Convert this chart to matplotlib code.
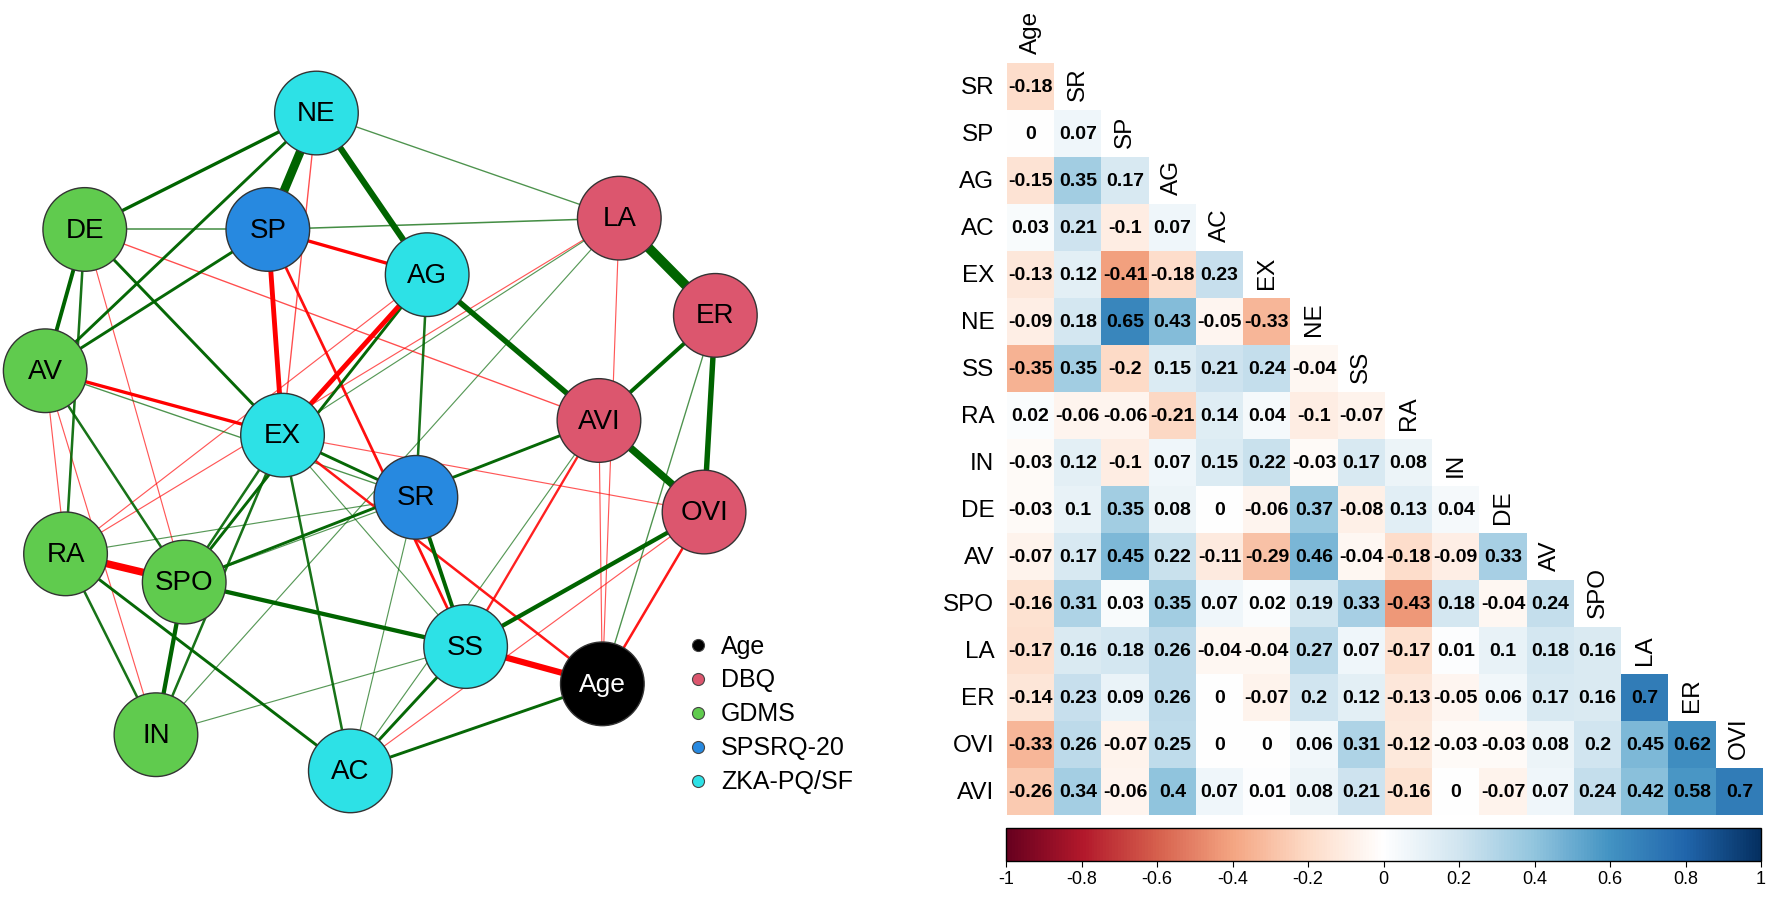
import numpy as np
import matplotlib
matplotlib.use("Agg")
import matplotlib.pyplot as plt
from matplotlib.colors import LinearSegmentedColormap, Normalize
from matplotlib.patches import Circle
import matplotlib as mpl

plt.rcParams['font.family'] = ['Liberation Sans', 'DejaVu Sans']

# ---------------- data ----------------
variables = ["Age", "SR", "SP", "AG", "AC", "EX", "NE", "SS", "RA", "IN",
             "DE", "AV", "SPO", "LA", "ER", "OVI", "AVI"]

corr_rows = [
    [-0.18],
    [0, 0.07],
    [-0.15, 0.35, 0.17],
    [0.03, 0.21, -0.1, 0.07],
    [-0.13, 0.12, -0.41, -0.18, 0.23],
    [-0.09, 0.18, 0.65, 0.43, -0.05, -0.33],
    [-0.35, 0.35, -0.2, 0.15, 0.21, 0.24, -0.04],
    [0.02, -0.06, -0.06, -0.21, 0.14, 0.04, -0.1, -0.07],
    [-0.03, 0.12, -0.1, 0.07, 0.15, 0.22, -0.03, 0.17, 0.08],
    [-0.03, 0.1, 0.35, 0.08, 0, -0.06, 0.37, -0.08, 0.13, 0.04],
    [-0.07, 0.17, 0.45, 0.22, -0.11, -0.29, 0.46, -0.04, -0.18, -0.09, 0.33],
    [-0.16, 0.31, 0.03, 0.35, 0.07, 0.02, 0.19, 0.33, -0.43, 0.18, -0.04, 0.24],
    [-0.17, 0.16, 0.18, 0.26, -0.04, -0.04, 0.27, 0.07, -0.17, 0.01, 0.1, 0.18, 0.16],
    [-0.14, 0.23, 0.09, 0.26, 0, -0.07, 0.2, 0.12, -0.13, -0.05, 0.06, 0.17, 0.16, 0.7],
    [-0.33, 0.26, -0.07, 0.25, 0, 0, 0.06, 0.31, -0.12, -0.03, -0.03, 0.08, 0.2, 0.45, 0.62],
    [-0.26, 0.34, -0.06, 0.4, 0.07, 0.01, 0.08, 0.21, -0.16, 0, -0.07, 0.07, 0.24, 0.42, 0.58, 0.7],
]

group_names = ["Age", "DBQ", "GDMS", "SPSRQ-20", "ZKA-PQ/SF"]
node_group = {
    "Age": "Age",
    "LA": "DBQ", "ER": "DBQ", "OVI": "DBQ", "AVI": "DBQ",
    "DE": "GDMS", "AV": "GDMS", "RA": "GDMS", "SPO": "GDMS", "IN": "GDMS",
    "SP": "SPSRQ-20", "SR": "SPSRQ-20",
    "NE": "ZKA-PQ/SF", "AG": "ZKA-PQ/SF", "EX": "ZKA-PQ/SF", "SS": "ZKA-PQ/SF", "AC": "ZKA-PQ/SF",
}

# network edges (signed edge weights)
edge_from = ["LA", "NE", "AVI", "RA", "Age", "NE", "AG", "ER", "SP", "AG",
             "OVI", "SPO", "SPO", "ER", "SS", "DE", "NE", "NE", "SP", "DE",
             "DE", "AV", "AV", "SP", "SP", "EX", "OVI", "AVI", "AG", "AG",
             "EX", "EX", "EX", "EX", "RA", "RA", "AC", "AC", "AVI", "SP",
             "SP", "NE", "NE", "LA", "AVI", "DE", "DE", "AV", "AV", "AV",
             "AG", "RA", "LA", "LA", "ER", "AVI", "OVI", "EX", "RA", "RA",
             "SPO", "SR", "IN", "EX"]
edge_to = ["ER", "SP", "OVI", "SPO", "SS", "AG", "AVI", "OVI", "EX", "EX",
           "SS", "SS", "IN", "AVI", "SR", "AV", "DE", "AV", "AV", "EX",
           "RA", "SPO", "EX", "AG", "SS", "Age", "Age", "SS", "SR", "SPO",
           "SR", "AC", "SPO", "IN", "IN", "AC", "SS", "Age", "SPO", "DE",
           "LA", "LA", "EX", "Age", "Age", "AVI", "SPO", "RA", "IN", "SR",
           "RA", "LA", "IN", "EX", "Age", "AC", "AC", "OVI", "SS", "SR",
           "SR", "AC", "SS", "SS"]
edge_weight = [0.50, 0.45, 0.38, -0.38, -0.32, 0.32, 0.28, 0.28, -0.25, -0.25,
               0.22, 0.22, 0.22, 0.20, 0.20, 0.20, 0.17, 0.15, 0.15, 0.15,
               0.13, 0.13, -0.17, -0.17, -0.14, -0.13, -0.13, -0.12, 0.13, 0.15,
               0.15, 0.13, 0.13, 0.13, 0.13, 0.15, 0.15, 0.15, 0.15, 0.08,
               0.08, 0.07, -0.07, -0.06, -0.06, -0.07, -0.06, -0.06, -0.06, 0.07,
               -0.06, -0.06, 0.06, 0.06, 0.07, 0.06, -0.06, -0.06, -0.06, 0.06,
               0.06, 0.06, 0.06, 0.06]

colorbar_ticks = [-1, -0.8, -0.6, -0.4, -0.2, 0, 0.2, 0.4, 0.6, 0.8, 1]

# ---------------- styles / layout ----------------
group_colors = {"Age": "#000000", "DBQ": "#DC566E", "GDMS": "#60CB4E",
                "SPSRQ-20": "#2789E0", "ZKA-PQ/SF": "#2DE1E6"}

# node layout (qgraph spring layout, in panel pixel units)
layout = {
    "NE": (280, 100), "DE": (75, 203), "SP": (237, 203), "AG": (378, 243),
    "LA": (548, 193), "ER": (633, 279), "AV": (40, 328), "EX": (250, 385),
    "AVI": (530, 372), "SR": (368, 440), "OVI": (623, 453), "RA": (58, 490),
    "SPO": (163, 515), "SS": (412, 572), "Age": (533, 605), "IN": (138, 650),
    "AC": (310, 682),
}
node_r = 37

W, H = 1772, 902
fig = plt.figure(figsize=(W / 100, H / 100), dpi=100)

# ---------------- network panel ----------------
axn = fig.add_axes([0, 0, 785 / 1568, 1])
axn.set_xlim(0, 785)
axn.set_ylim(798, 0)
axn.axis("off")

order = np.argsort(np.abs(edge_weight), kind="stable")
for k in order:
    a, b, w = edge_from[k], edge_to[k], edge_weight[k]
    (x1, y1), (x2, y2) = layout[a], layout[b]
    col = "#006400" if w > 0 else "#FF0000"
    aw = abs(w)
    alpha = min(1.0, 0.45 + aw * 3.5)
    axn.plot([x1, x2], [y1, y2], color=col, lw=aw * 14, alpha=alpha,
             solid_capstyle="butt", zorder=1)

for name, (x, y) in layout.items():
    g = node_group[name]
    axn.add_patch(Circle((x, y), node_r, facecolor=group_colors[g],
                         edgecolor="#333333", lw=1.0, zorder=3))
    axn.text(x, y + 1, name, ha="center", va="center", fontsize=20 if name != "Age" else 19,
             color="white" if g == "Age" else "black", zorder=4)

# legend
for i, g in enumerate(group_names):
    ly = 571 + i * 30
    axn.scatter([618], [ly], s=75, color=group_colors[g], edgecolor="#444444",
                linewidth=0.8, zorder=5, clip_on=False)
    axn.text(638, ly + 1, g, ha="left", va="center", fontsize=18, zorder=5)

# ---------------- correlation heatmap ----------------
n = len(variables) - 1
M = np.full((n, n), np.nan)
for i, row in enumerate(corr_rows):
    for j, v in enumerate(row):
        M[i, j] = v

rdbu = ["#67001F", "#B2182B", "#D6604D", "#F4A582", "#FDDBC7", "#FFFFFF",
        "#D1E5F0", "#92C5DE", "#4393C3", "#2166AC", "#053061"]
cmap = LinearSegmentedColormap.from_list("corrRdBu", rdbu, N=256)
cmap.set_bad("white")
norm = Normalize(-1, 1)

left, right = 1007 / W, 1763 / W
top, bottom = 1 - 63 / H, 1 - 815 / H
axh = fig.add_axes([left, bottom, right - left, top - bottom])
axh.imshow(np.ma.masked_invalid(M), cmap=cmap, norm=norm, interpolation="nearest",
           extent=(0, n, n, 0), aspect="auto")
axh.set_xlim(0, n)
axh.set_ylim(n, 0)
axh.axis("off")

for i, row in enumerate(corr_rows):
    for j, v in enumerate(row):
        txt = "0" if v == 0 else f"{v:g}"
        axh.text(j + 0.5, i + 0.53, txt, ha="center", va="center", fontsize=14,
                 fontweight="bold", color="black")

for i in range(n):
    axh.text(-0.27, i + 0.53, variables[i + 1], ha="right", va="center", fontsize=17.5)
    axh.text(i + 0.5, i - 0.2, variables[i], ha="center", va="bottom", rotation=90,
             fontsize=17.5)

# colorbar
cax = fig.add_axes([1006 / W, 1 - 861 / H, 755 / W, 33 / H])
cb = mpl.colorbar.ColorbarBase(cax, cmap=cmap, norm=norm, orientation="horizontal",
                               ticks=colorbar_ticks)
cb.ax.set_xticklabels([f"{t:g}" for t in colorbar_ticks])
cb.ax.tick_params(labelsize=13, length=4, width=0.8)
cb.outline.set_linewidth(1.0)

fig.savefig("out.png", dpi=100, facecolor="white")
